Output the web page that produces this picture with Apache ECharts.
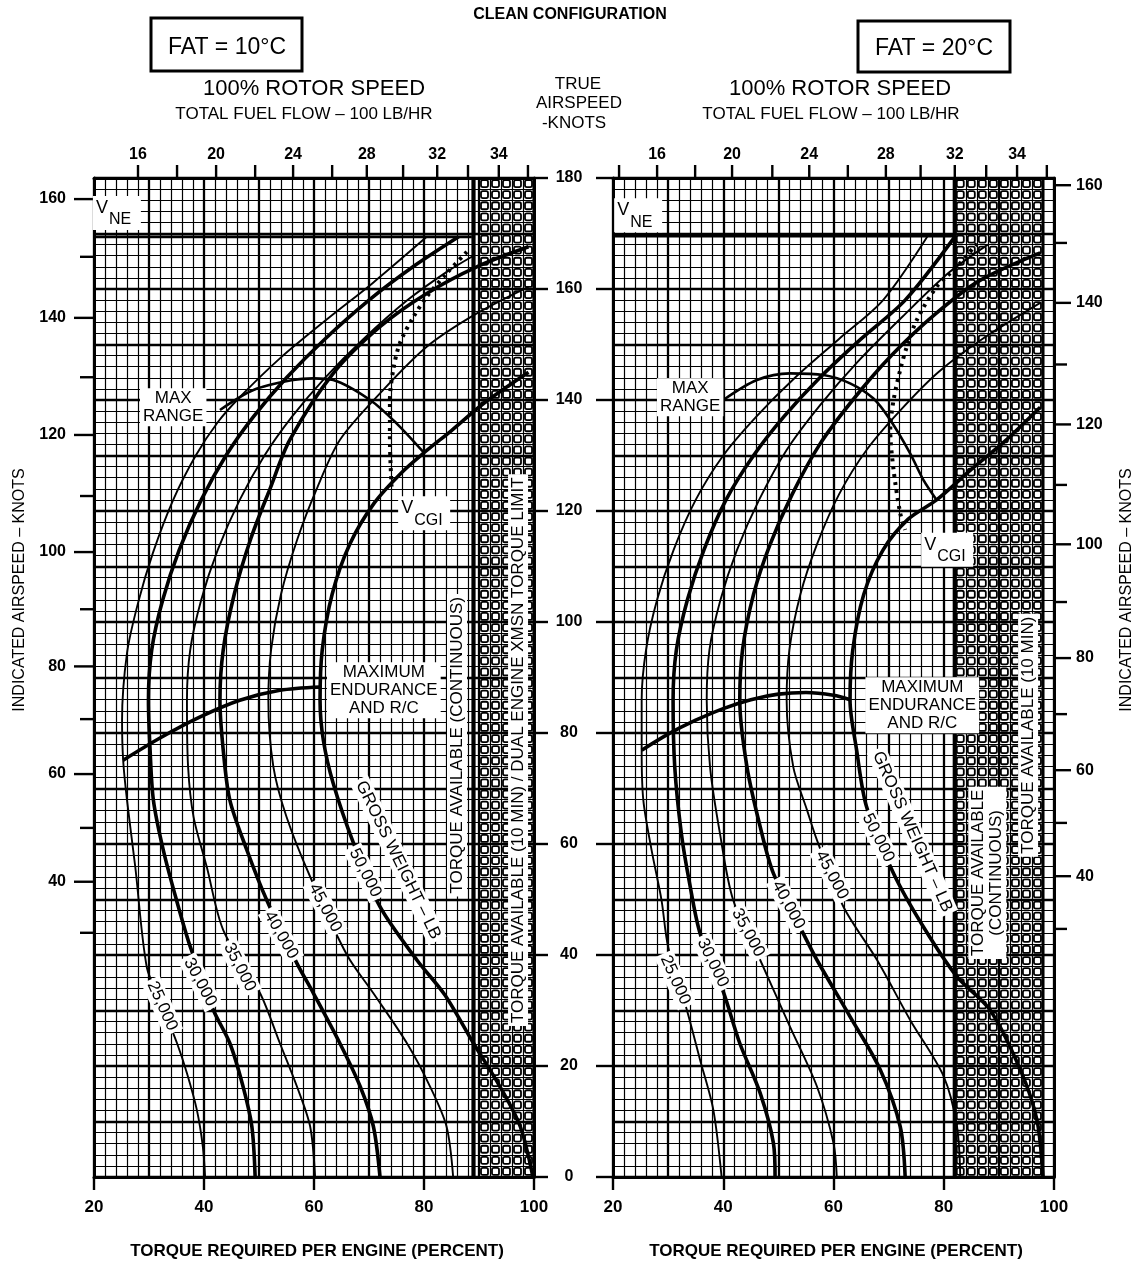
<!DOCTYPE html>
<html><head><meta charset="utf-8">
<script src="https://cdn.jsdelivr.net/npm/echarts@6.0.0/dist/echarts.min.js"></script>
<style>html,body{margin:0;padding:0;background:#fff}#c{width:1142px;height:1266px}</style>
</head><body><div id="c"></div>
<script>
// ---------------- DATA ----------------
const tasTicks = [0, 20, 40, 60, 80, 100, 120, 140, 160, 180];
const iasTicks = [160, 150, 140, 130, 120, 110, 100, 90, 80, 70, 60, 50, 40, 30];
const iasAsTas10 = [176.2, 165.8, 154.8, 144.1, 133.7, 122.7, 112.6, 102.3, 92.0, 82.5, 72.6, 62.9, 53.2, 44.0];
const iasAsTas20 = [178.7, 168.3, 157.5, 146.4, 135.6, 124.7, 114.0, 103.6, 93.5, 83.4, 73.3, 63.8, 54.2, 44.7];
const fuelTicks10 = [16, 18, 20, 22, 24, 26, 28, 30, 32, 33, 34, 35];
const fuelAtTorque10 = [28.0, 35.1, 42.2, 49.3, 56.2, 63.3, 69.6, 76.2, 82.4, 88.0, 93.6, 98.9];
const fuelTicks20 = [14, 16, 18, 20, 22, 24, 26, 28, 30, 32, 33, 34, 35];
const fuelAtTorque20 = [21.1, 28.0, 34.9, 41.6, 48.9, 55.6, 62.6, 69.5, 75.8, 82.0, 87.7, 93.3, 98.7];
const fuelLabelled = [16, 20, 24, 28, 32, 34];

// gross weight curves, FAT 10C : [torque %, true airspeed kt]
const gw25k10 = [[40.2,0],[39.8,5.4],[38.7,12.1],[36.9,18.7],[35.1,24.1],[32.0,31.9],[29.6,37.8],[27.5,55.9],[26.0,67.9],[25.3,75.1],[25.1,82.3],[26.0,94.4],[28.0,103.4],[30.7,112.4],[34.4,122.0],[38.5,130.0],[42.5,136.0],[46.5,140.5],[53.8,147.5],[62.3,154.5],[70.7,161.1],[80.5,169.4]];
const gw30k10 = [[49.3,0],[48.7,9.1],[47.1,16.3],[44.7,24.1],[41.7,30.1],[37.5,41.5],[35.0,49.9],[32.6,58.9],[30.8,67.9],[30.2,76.9],[29.9,85.9],[30.5,95],[32.5,104],[35.5,113],[39.5,122],[44.0,130],[49,137],[55,144],[62,151],[70,158],[78,164],[86.3,169.4]];
const gw35k10 = [[60.2,0],[59.3,9.1],[56.9,16.3],[53.8,24.1],[50.2,33.1],[43.5,44.5],[40.5,55.9],[38.1,64.9],[37.1,74.0],[36.9,85.9],[37.5,95],[39.5,104],[42.5,113],[46.5,122],[51,130],[56,137],[62,144],[69,151],[77,158],[84,163],[89,166]];
const gw40k10 = [[72.0,0],[70.8,9.1],[68.4,16.3],[64.7,24.1],[59.9,33.1],[56.9,38.5],[51.4,49.9],[47.8,58.9],[44.7,67.9],[43.5,76.9],[42.9,85.9],[43.5,95],[45.5,105],[48.5,115],[52,124],[55.6,132.8],[63.5,144.8],[72.0,153.2],[80.5,159.2],[89.6,164.0],[99.0,167.6]];
const gw45k10 = [[85.3,0],[84.1,9.1],[81.1,16.3],[76.9,24.1],[70.8,33.1],[66.0,40.0],[59.3,54.1],[55.0,64.9],[52.6,74.0],[51.7,85.9],[52.2,95],[54,105],[57,115],[60.5,124],[64.7,132.8],[72.0,141.2],[80.5,149.6],[89.6,155.6],[99.0,160.4]];
const gw50k10 = [[99.8,0],[97.5,9.1],[93.8,16.3],[89.0,24.1],[83.8,32.8],[78.7,39.1],[72.0,48.7],[67.2,60.1],[63.5,70.9],[61.7,78.7],[61.1,85.9],[61.5,95],[63.3,105],[66.5,114],[71,121.5],[76,127],[80,130.5],[85,134.5],[91,139.5],[99.0,145]];
const maxEnd10 = [[25.3,75.1],[32.0,79.1],[39.3,82.9],[46.5,85.9],[53.8,87.7],[61.1,88.3]];
const maxRange10 = [[42.9,138.2],[49.0,141.8],[56.2,143.6],[59.9,143.9],[63.5,143.6],[70.2,140.0],[75.0,135.8],[80.0,130.5]];
const vcgi10 = [[87.8,166.7],[84.1,162.8],[80.5,158.6],[78.1,155.0],[75.6,150.2],[74.4,145.4],[73.8,140.0],[73.8,132.8],[74.1,124.4]];
const vne10 = [[20,169.4],[88.7,169.4]];
const limits10 = [89, 100];

// gross weight curves, FAT 20C
const gw25k20 = [[39.7,0],[38.2,12.1],[35.8,21.1],[33.4,30.1],[30.0,41.5],[28.8,49.9],[27.0,58.9],[25.5,67.9],[25.2,76.9],[25.2,85.9],[26.0,95],[28,104],[31,113],[35,122],[40,130],[46,137],[53,144],[61,151],[69,158],[77,169.4]];
const gw30k20 = [[49.4,0],[49.1,6.1],[46.7,15.1],[43.0,24.1],[40.0,33.4],[35.8,43.9],[33.9,52.9],[32.4,61.9],[31.2,73.9],[30.9,85.9],[31.5,95],[33.5,104],[36.5,113],[40.5,122],[45.5,130],[51,137],[57.5,144],[65,151],[73,158],[82,169.4]];
const gw35k20 = [[60.6,0],[60.0,6.1],[57.0,16.3],[52.1,27.1],[46.7,39.1],[41.8,49.9],[39.4,61.9],[37.6,73.9],[37.0,85.9],[37.5,95],[39.5,104],[42.5,113],[46.5,122],[51.5,131],[57.5,139],[64.5,147],[72.5,155],[81,163],[88,168]];
const gw40k20 = [[73.0,0],[72.1,9.1],[68.5,19.3],[63.0,28.9],[57.0,39.1],[54.5,43.9],[49.1,54.7],[46.7,63.1],[44.3,73.9],[43.0,85.9],[43.5,95],[45.5,105],[48.5,114],[52.5,123],[57.5,132],[63.5,140],[70.5,148],[78.5,155.5],[86.5,161.5],[97.5,166.5]];
const gw45k20 = [[83.0,0],[82.4,9.1],[80.0,18.1],[73.9,28.3],[67.9,39.1],[61.8,48.7],[57.0,60.7],[55.2,66.1],[52.7,73.9],[51.5,85.9],[52,95],[54,105],[57,114],[61,123],[66,131],[72,138],[79,145],[87,151],[97.5,157.5]];
const gw50k20 = [[98.0,0],[96.9,10.3],[93.9,19.3],[88.4,30.1],[82.4,36.1],[76.3,45.1],[70.9,54.7],[66.0,66.7],[64.2,76.9],[63.0,85.9],[63.5,95],[65.5,105],[69,113],[73.5,118.5],[78.7,122.0],[85,127.5],[91,132.5],[97.5,138.7]];
const maxEnd20 = [[25.2,76.9],[30,79.8],[35,82.3],[40,84.4],[45,86.0],[50,87.0],[55,87.3],[60,86.8],[63,86.0]];
const maxRange20 = [[40.0,140.0],[46.1,143.6],[52.1,144.8],[58.2,144.5],[63.0,143.0],[67.2,140.3],[70.3,136.4],[73.9,130.4],[76.3,125.6],[78.7,122.0]];
const vcgi20 = [[86.0,168.2],[82.4,164.0],[78.7,160.4],[75.1,154.4],[73.3,149.6],[72.1,145.4],[70.9,140.0],[70.3,134.6],[70.9,127.4],[72.1,119.6],[73.0,116.6]];
const vne20 = [[20,169.5],[82,169.5]];
const limits20 = [82, 98];

// ---------------- LAYOUT / STYLE ----------------
const FONT = "'Liberation Sans', Arial, sans-serif";
const labels10 = [
  {t:'25,000', x:32.4, y:30.8, r:-66}, {t:'30,000', x:39.3, y:35.1, r:-62},
  {t:'35,000', x:46.5, y:37.8, r:-63}, {t:'40,000', x:54.0, y:43.6, r:-60},
  {t:'45,000', x:62.0, y:48.5, r:-62}, {t:'50,000', x:69.3, y:54.8, r:-63},
  {t:'GROSS WEIGHT – LB', x:75.3, y:57.1, r:-64},
  {t:'MAX\nRANGE', x:34.4, y:138.7},
  {t:'MAXIMUM\nENDURANCE\nAND R/C', x:72.7, y:87.7},
  {t:'TORQUE AVAILABLE (CONTINUOUS)', x:86.0, y:77.8, r:90},
  {t:'TORQUE AVAILABLE (10 MIN) / DUAL ENGINE XMSN TORQUE LIMIT', x:97.1, y:76.9, r:90},
  {v:'V', s:'NE', x:23.8, y:173.7}, {v:'V', s:'CGI', x:79.3, y:119.6}
];
const labels20 = [
  {t:'25,000', x:31.3, y:35.5, r:-66}, {t:'30,000', x:38.1, y:38.6, r:-64},
  {t:'35,000', x:44.5, y:44.0, r:-62}, {t:'40,000', x:51.8, y:49.0, r:-62},
  {t:'45,000', x:59.7, y:54.4, r:-62}, {t:'50,000', x:68.1, y:61.1, r:-63},
  {t:'GROSS WEIGHT – LB', x:74.3, y:62.2, r:-66},
  {t:'MAX\nRANGE', x:34.0, y:140.5},
  {t:'MAXIMUM\nENDURANCE\nAND R/C', x:76.1, y:85.0},
  {t:'TORQUE AVAILABLE\n(CONTINUOUS)', x:87.9, y:54.8, r:90},
  {t:'TORQUE AVAILABLE (10 MIN)', x:95.3, y:79.6, r:90},
  {v:'V', s:'NE', x:24.2, y:173.3}, {v:'V', s:'CGI', x:79.9, y:113.0}
];

const THICK = 3.6, THIN = 1.9;

function curve(data, w, ai, extra) {
  return {type:'line', xAxisIndex:ai, yAxisIndex:ai, data, smooth:0.3, symbol:'none', silent:true,
    animation:false, z:4, lineStyle:Object.assign({color:'#000', width:w}, extra||{})};
}
function hatch(lim, ai) {
  return {type:'custom', xAxisIndex:ai, yAxisIndex:ai, data:[lim], z:3, silent:true, animation:false,
    renderItem:(p, api) => {
      const x0 = api.value(0), x1 = api.value(1), ch = [];
      for (let tq = Math.ceil(x0/2)*2; tq + 2 <= x1 + 0.01; tq += 2) {
        for (let v = 0; v < 180; v += 2) {
          const c = api.coord([tq+1, v+1]);
          ch.push({type:'rect', shape:{x:c[0]-3.5, y:c[1]-3.5, width:7, height:7, r:1.8},
            style:{fill:'#fff', stroke:'#000', lineWidth:1.8}});
        }
      }
      return {type:'group', children:ch};
    }};
}
function vline(x, w, ai) { return curve([[x,0],[x,180]], w, ai); }
function iasAxis(tasArr, ai, side) {
  return {type:'custom', xAxisIndex:ai, yAxisIndex:ai, data:iasTicks.map((v,i)=>[tasArr[i], v]), z:6,
    silent:true, animation:false, clip:false,
    renderItem:(p, api) => {
      const tas = api.value(0), ias = api.value(1);
      const c = api.coord([side<0?20:100, tas]);
      const major = ias % 20 === 0;
      const len = side < 0 ? (major ? 20 : 14) : (major ? 17 : 13);
      const ch = [{type:'line', shape:{x1:c[0], y1:c[1], x2:c[0]+side*len, y2:c[1]}, style:{stroke:'#000', lineWidth:2.4}}];
      if (major && ias >= 40) ch.push({type:'text', x:c[0]+side*(side<0?28:22), y:c[1],
        style:{text:String(ias), fill:'#000', font:'bold 16px '+FONT, align: side<0?'right':'left', verticalAlign:'middle'}});
      return {type:'group', children:ch};
    }};
}
function fuelAxis(ticks, tqs, ai) {
  return {type:'custom', xAxisIndex:ai, yAxisIndex:ai, data:ticks.map((f,i)=>[tqs[i], f]), z:6,
    silent:true, animation:false, clip:false,
    renderItem:(p, api) => {
      const c = api.coord([api.value(0), 180]), f = api.value(1);
      const ch = [{type:'line', shape:{x1:c[0], y1:c[1], x2:c[0], y2:c[1]-13}, style:{stroke:'#000', lineWidth:2.4}}];
      if (fuelLabelled.includes(f)) ch.push({type:'text', x:c[0], y:c[1]-23,
        style:{text:String(f), fill:'#000', font:'bold 16px '+FONT, align:'center', verticalAlign:'middle'}});
      return {type:'group', children:ch};
    }};
}
function labelSeries(cfg, ai) {
  return {type:'custom', xAxisIndex:ai, yAxisIndex:ai, data:cfg.map(l=>[l.x, l.y]), z:10, silent:true,
    animation:false, clip:false,
    renderItem:(p, api) => {
      const l = cfg[p.dataIndex], c = api.coord([api.value(0), api.value(1)]);
      if (l.v) {
        const w = l.s.length > 2 ? 52 : 48;
        return {type:'group', x:c[0], y:c[1], children:[
          {type:'rect', shape:{x:-22, y:-17, width:w, height:34}, style:{fill:'#fff'}},
          {type:'text', x:-13, y:-5, style:{text:l.v, fill:'#000', font:'18px '+FONT, align:'center', verticalAlign:'middle'}},
          {type:'text', x:-6, y:7, style:{text:l.s, fill:'#000', font:'16px '+FONT, align:'left', verticalAlign:'middle'}}
        ]};
      }
      return {type:'text', x:c[0], y:c[1], rotation:(l.r||0)*Math.PI/180,
        style:{text:l.t, fill:'#000', font:'17px '+FONT, align:'center', verticalAlign:'middle',
          backgroundColor:'#fff', padding:[1,3], lineHeight:18}};
    }};
}

function xAxes(g) {
  return [
    {gridIndex:g, type:'value', min:20, max:100, interval:20, position:'bottom',
      axisLine:{show:true, onZero:false, lineStyle:{color:'#000', width:3}},
      axisTick:{show:true, length:13, lineStyle:{color:'#000', width:2.4}},
      axisLabel:{color:'#000', fontSize:17, fontWeight:'bold', fontFamily:FONT, margin:22},
      splitLine:{show:false}},
    {gridIndex:g, type:'value', min:20, max:100, interval:10, position:'top',
      axisLine:{show:true, onZero:false, lineStyle:{color:'#000', width:3}},
      axisTick:{show:false}, axisLabel:{show:false},
      splitLine:{show:true, lineStyle:{color:'#000', width:2.3}},
      minorTick:{show:false, splitNumber:5},
      minorSplitLine:{show:true, lineStyle:{color:'#000', width:1.2}}}
  ];
}
function yAxes(g, tasSide) {
  return [
    {gridIndex:g, type:'value', min:0, max:180, interval:20, position:tasSide,
      axisLine:{show:true, onZero:false, lineStyle:{color:'#000', width:3}},
      axisTick:{show:true, length:tasSide==='right'?14:17, lineStyle:{color:'#000', width:2.4}},
      axisLabel:{show:tasSide==='right', color:'#000', fontSize:16, fontWeight:'bold', fontFamily:FONT, margin:35, align:'center'},
      splitLine:{show:false}},
    {gridIndex:g, type:'value', min:0, max:180, interval:10, position:tasSide==='right'?'left':'right',
      axisLine:{show:true, onZero:false, lineStyle:{color:'#000', width:3}},
      axisTick:{show:false}, axisLabel:{show:false},
      splitLine:{show:true, lineStyle:{color:'#000', width:2.3}},
      minorTick:{show:false, splitNumber:5},
      minorSplitLine:{show:true, lineStyle:{color:'#000', width:1.2}}}
  ];
}
function panel(ai, d) {
  return [
    hatch(d.lim, ai),
    vline(d.lim[0], 4.2, ai), vline(d.lim[1], 3, ai),
    curve(d.vne, 2.6, ai),
    curve(d.w25, THIN, ai), curve(d.w30, THICK, ai), curve(d.w35, THIN, ai),
    curve(d.w40, THICK, ai), curve(d.w45, THIN, ai), curve(d.w50, THICK, ai),
    curve(d.me, THICK, ai), curve(d.mr, 2.6, ai),
    curve(d.vc, 4, ai, {type:[3,5], cap:'butt'}),
    iasAxis(d.ias, ai, d.side), fuelAxis(d.ft, d.fq, ai), labelSeries(d.labels, ai)
  ];
}

const chart = echarts.init(document.getElementById('c'), null, {renderer:'canvas'});
const txt = (t, x, y, size, extra) => Object.assign({type:'text', x, y, z:20,
  style:{text:t, fill:'#000', font:size+'px '+FONT, align:'center', verticalAlign:'middle'}}, extra||{});
chart.setOption({
  backgroundColor:'#fff', animation:false,
  grid:[{left:94, top:178, width:440, height:999}, {left:613, top:178, width:441, height:999}],
  xAxis:[...xAxes(0), ...xAxes(1)],
  yAxis:[...yAxes(0,'right'), ...yAxes(1,'left')],
  series:[
    ...panel(0, {lim:limits10, vne:vne10, w25:gw25k10, w30:gw30k10, w35:gw35k10, w40:gw40k10, w45:gw45k10, w50:gw50k10,
      me:maxEnd10, mr:maxRange10, vc:vcgi10, ias:iasAsTas10, side:-1, ft:fuelTicks10, fq:fuelAtTorque10, labels:labels10}),
    ...panel(2, {lim:limits20, vne:vne20, w25:gw25k20, w30:gw30k20, w35:gw35k20, w40:gw40k20, w45:gw45k20, w50:gw50k20,
      me:maxEnd20, mr:maxRange20, vc:vcgi20, ias:iasAsTas20, side:1, ft:fuelTicks20, fq:fuelAtTorque20, labels:labels20})
  ],
  graphic:[
    txt('CLEAN CONFIGURATION', 570, 15, 'bold 16'),
    {type:'rect', shape:{x:151, y:18, width:151, height:53}, style:{fill:'#fff', stroke:'#000', lineWidth:3}},
    txt('FAT = 10°C', 227, 48, 23),
    {type:'rect', shape:{x:858, y:21, width:152, height:51}, style:{fill:'#fff', stroke:'#000', lineWidth:3}},
    txt('FAT = 20°C', 934, 49, 23),
    txt('100% ROTOR SPEED', 314, 89, 22), txt('TOTAL FUEL FLOW – 100 LB/HR', 304, 114, 17),
    txt('100% ROTOR SPEED', 840, 89, 22), txt('TOTAL FUEL FLOW – 100 LB/HR', 831, 114, 17),
    txt('TRUE', 578, 84, 17), txt('AIRSPEED', 579, 103, 17), txt('-KNOTS', 574, 123, 17),
    txt('TORQUE REQUIRED PER ENGINE (PERCENT)', 317, 1251, 'bold 17'),
    txt('TORQUE REQUIRED PER ENGINE (PERCENT)', 836, 1251, 'bold 17'),
    txt('INDICATED AIRSPEED – KNOTS', 20, 590, 16, {rotation:Math.PI/2}),
    txt('INDICATED AIRSPEED – KNOTS', 1127, 590, 16, {rotation:Math.PI/2})
  ]
});
</script></body></html>
